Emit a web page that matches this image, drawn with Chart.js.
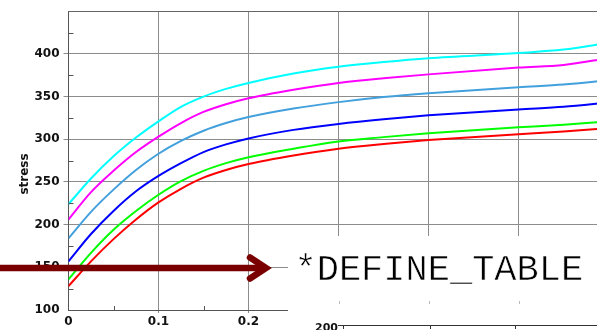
<!DOCTYPE html>
<html><head><meta charset="utf-8">
<script src="https://cdn.jsdelivr.net/npm/chart.js@4.4.1/dist/chart.umd.min.js"></script>
<style>
html,body{margin:0;padding:0;background:#fff;overflow:hidden;width:597px;height:330px;}
#wrap{position:absolute;left:0;top:0;width:612px;height:330px;}
</style></head><body>
<div id="wrap"><canvas id="c" width="612" height="330"></canvas></div>
<script>
// strain values (x)
const strain       = [0, 0.025, 0.05, 0.075, 0.1, 0.125, 0.15, 0.175, 0.2, 0.25, 0.3, 0.35, 0.4, 0.5, 0.55, 0.6];
// stress curves (y)
const cyanCurve    = [224, 254, 280, 302, 321, 338, 350, 359, 366, 377, 385, 390.5, 395, 401, 405, 413];
const magentaCurve = [206, 238, 263, 285, 303, 319, 332, 341, 348, 358, 366, 371.5, 376, 384, 387, 395];
const steelCurve   = [184, 215, 241, 264, 283, 298, 310, 319, 326, 336, 343.5, 349.5, 354, 361, 364, 369];
const blueCurve    = [157, 189, 216, 239, 257, 272, 285, 294, 301, 311, 318, 323.5, 328, 335, 338, 343];
const greenCurve   = [136, 167, 194, 216, 235, 251, 263, 272, 279, 289, 297.5, 302.5, 307, 314, 317, 321];
const redCurve     = [128, 157, 183, 206, 226, 242, 255, 264, 271, 281, 289, 294.5, 299, 306, 309, 313];
const seriesColors = ['#00ffff', '#ff00ff', '#42a0dc', '#0000ff', '#00ff00', '#ff0000'];
const yTitle = 'stress';
const overlayText = '*DEFINE_TABLE';
const lowerTick = '200';

const curves = [cyanCurve, magentaCurve, steelCurve, blueCurve, greenCurve, redCurve];
const datasets = curves.map((c, i) => ({
  data: strain.map((x, j) => ({x: x, y: c[j]})),
  borderColor: seriesColors[i],
  borderWidth: 2,
  pointRadius: 0,
  fill: false,
  cubicInterpolationMode: 'monotone'
}));

const tickFont = {family: '"DejaVu Sans", sans-serif', weight: 'bold', size: 12};

const extras = {
  id: 'extras',
  afterDraw(chart) {
    const ctx = chart.ctx;
    const a = chart.chartArea;
    const xs = chart.scales.x, ys = chart.scales.y;
    ctx.save();
    // top frame
    ctx.strokeStyle = '#666';
    ctx.lineWidth = 1;
    ctx.beginPath();
    ctx.moveTo(a.left, Math.round(a.top) + 0.5);
    ctx.lineTo(a.right, Math.round(a.top) + 0.5);
    ctx.stroke();
    // minor ticks
    ctx.strokeStyle = '#555';
    ctx.beginPath();
    for (let v = 125; v < 450; v += 50) {
      const y = Math.round(ys.getPixelForValue(v)) + 0.5;
      ctx.moveTo(a.left, y); ctx.lineTo(a.left + 5, y);
    }
    for (let v = 0.05; v < 0.6; v += 0.1) {
      const x = Math.round(xs.getPixelForValue(v)) + 0.5;
      ctx.moveTo(x, a.bottom); ctx.lineTo(x, a.bottom - 4);
    }
    ctx.stroke();
    // y title
    ctx.save();
    ctx.translate(28, 174);
    ctx.rotate(-Math.PI / 2);
    ctx.fillStyle = '#111';
    ctx.font = 'bold 12px "DejaVu Sans", sans-serif';
    ctx.textAlign = 'center';
    ctx.textBaseline = 'alphabetic';
    ctx.fillText(yTitle, 0, 0);
    ctx.restore();
    // white overlay box
    ctx.fillStyle = '#ffffff';
    ctx.fillRect(288, 236, chart.width - 288, chart.height - 236);
    // stubs
    ctx.strokeStyle = '#bbb';
    ctx.beginPath();
    [0.3, 0.4, 0.5].forEach(v => {
      const x = Math.round(xs.getPixelForValue(v)) + 0.5;
      ctx.moveTo(x, 301); ctx.lineTo(x, 304);
    });
    ctx.stroke();
    // lower pasted axis
    ctx.strokeStyle = '#333';
    ctx.beginPath();
    ctx.moveTo(338, 325.5); ctx.lineTo(chart.width, 325.5);
    [343.5, 430.5, 515.5].forEach(x => { ctx.moveTo(x, 325.5); ctx.lineTo(x, 329); });
    ctx.stroke();
    ctx.fillStyle = '#111';
    ctx.font = 'bold 11px "DejaVu Sans", sans-serif';
    ctx.textAlign = 'right';
    ctx.textBaseline = 'alphabetic';
    ctx.fillText(lowerTick, 338, 330.5);
    // DEFINE_TABLE text (slightly thinned strokes to resemble Courier)
    ctx.font = '37px "Liberation Mono", "Courier New", monospace';
    ctx.textAlign = 'left';
    ctx.fillStyle = '#000';
    ctx.fillText(overlayText, 294.5, 280);
    ctx.strokeStyle = '#ffffff';
    ctx.lineWidth = 0.6;
    ctx.strokeText(overlayText, 294.5, 280);
    // arrow
    ctx.strokeStyle = '#7a0000';
    ctx.lineWidth = 6.5;
    ctx.lineCap = 'butt';
    ctx.beginPath();
    ctx.moveTo(0, 268); ctx.lineTo(264, 268);
    ctx.stroke();
    ctx.lineCap = 'round';
    ctx.lineJoin = 'miter';
    ctx.beginPath();
    ctx.moveTo(250, 257.5); ctx.lineTo(266, 268); ctx.lineTo(250, 278.5);
    ctx.stroke();
    ctx.restore();
  }
};

new Chart(document.getElementById('c'), {
  type: 'line',
  data: {datasets: datasets},
  options: {
    responsive: false,
    animation: false,
    events: [],
    layout: {padding: {top: 8, right: 3.5, left: 0, bottom: 0}},
    plugins: {legend: {display: false}, tooltip: {enabled: false}, title: {display: false}},
    scales: {
      x: {
        type: 'linear', min: 0, max: 0.6,
        afterFit(s) { s.height = 20; },
        ticks: {
          stepSize: 0.1, font: tickFont, color: '#111', padding: 2, maxRotation: 0, autoSkip: false,
          callback: v => (v <= 0.2001 ? String(Math.round(v * 10) / 10) : '')
        },
        grid: {
          color: c => (c.tick && Math.abs(c.tick.value) < 1e-9 ? 'rgba(0,0,0,0)' : '#8c8c8c'),
          lineWidth: 1, tickLength: 3
        },
        border: {color: '#555', width: 1}
      },
      y: {
        min: 100, max: 450,
        afterFit(s) { s.width = 68.5; },
        ticks: {
          stepSize: 50, font: tickFont, color: '#111', padding: 4,
          callback: v => (v >= 450 ? '' : String(v))
        },
        grid: {
          color: c => (c.tick && (c.tick.value === 100 || c.tick.value === 450) ? 'rgba(0,0,0,0)' : '#8c8c8c'),
          lineWidth: 1, tickLength: 5
        },
        border: {color: '#555', width: 1}
      }
    }
  },
  plugins: [extras]
});
</script>
</body></html>
